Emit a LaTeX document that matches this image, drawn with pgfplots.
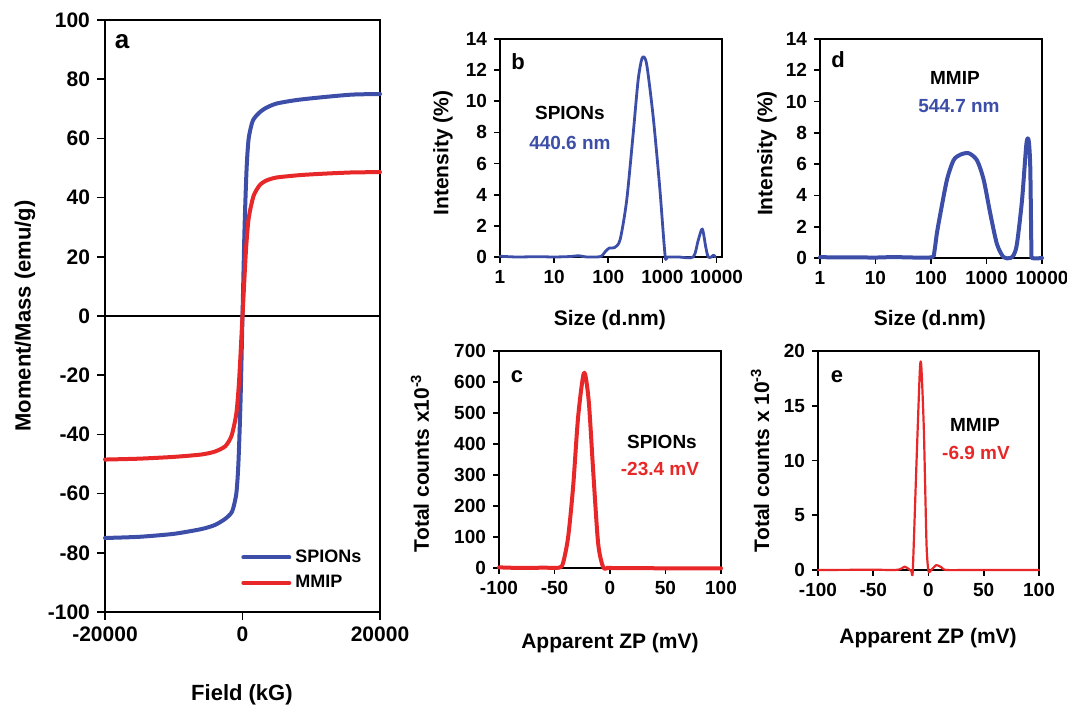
\documentclass[border=0pt]{standalone}
\usepackage{fontspec}
\setmainfont{Liberation Sans}
\usepackage{pgfplots}
\pgfplotsset{compat=1.18}
\definecolor{cblue}{RGB}{60,78,168}
\definecolor{cred}{RGB}{232,40,40}
\pgfplotsset{
  panel/.style={
    scale only axis, anchor=south west,
    axis line style={line width=1pt},
    tick align=outside, xtick pos=bottom, ytick pos=left,
    major tick style={black, line width=0.8pt}, major tick length=3pt,
    /pgf/number format/assume math mode=true,
    /pgf/number format/1000 sep={},
    scaled ticks=false,
    tick label style={font=\fontsize{9.5}{11}\selectfont\bfseries},
    label style={font=\fontsize{10.5}{12}\selectfont\bfseries},
    every axis plot/.append style={line join=round, line cap=round},
    clip=false,
  },
}
\tikzset{
  plabel/.style={font=\fontsize{11}{12}\selectfont\bfseries},
  ann/.style={font=\fontsize{9.5}{11}\selectfont\bfseries},
}
\begin{document}
\begin{tikzpicture}
\useasboundingbox (0,0) rectangle (533.5pt,352.5pt);

% ---------- panel a ----------
\begin{axis}[panel,
  at={(52.5pt,46.5pt)}, width=137.5pt, height=296pt,
  xmin=-20000, xmax=20000, ymin=-100, ymax=100,
  xtick={-20000,0,20000}, xticklabels={-20000,0,20000},
  ytick={-100,-80,...,100},
  major tick length=4pt,
  tick label style={font=\fontsize{10.5}{12}\selectfont\bfseries},
  label style={font=\fontsize{11}{13}\selectfont\bfseries},
  xlabel={Field (kG)}, ylabel={Moment/Mass (emu/g)},
  xlabel style={at={(axis description cs:0.498,-0.140)}, anchor=center},
  ylabel style={at={(axis description cs:-0.291,0.5)}, anchor=center},
  legend style={at={(axis description cs:0.97,0.022)}, anchor=south east,
    draw=none, fill=none, font=\fontsize{9}{10}\selectfont\bfseries,
    row sep=1pt},
  legend cell align=left,
  legend image code/.code={\draw[#1] (0pt,0pt) -- (23pt,0pt);},
]
\addplot[forget plot, black, line width=0.6pt] coordinates {(-20000,0) (20000,0)};
\addplot[cblue, line width=2pt, smooth, tension=0.4] coordinates {
(-20000,-75) (-15000,-74.6) (-10000,-73.6) (-6000,-72) (-4000,-70.6)
(-2500,-68.5) (-1500,-66) (-900,-60) (-600,-50) (-300,-30) (0,0)
(300,30) (600,50) (900,60) (1500,66) (2500,68.8) (3500,70.4)
(5000,71.8) (8000,73) (12000,74) (16000,74.8) (20000,75)};
\addlegendentry{SPIONs}
\addplot[cred, line width=2pt, smooth, tension=0.4] coordinates {
(-20000,-48.5) (-15000,-48.2) (-10000,-47.6) (-6000,-46.8) (-4000,-45.8)
(-2500,-44) (-1600,-40.5) (-900,-33) (-500,-22) (0,0)
(500,22) (900,33) (1600,40.5) (2500,44.2) (3500,45.8) (5000,46.8)
(8400,47.6) (12000,48.1) (16000,48.5) (20000,48.6)};
\addlegendentry{MMIP}
\node[font=\fontsize{13}{14}\selectfont\bfseries] at (axis description cs:0.062,0.964) {a};
\end{axis}

% ---------- panel b ----------
\begin{axis}[panel,
  at={(250pt,224pt)}, width=111pt, height=109pt,
  xmode=log, xmin=1, xmax=12600, ymin=0, ymax=14,
  xminorticks=false,
  xtick={1,10,100,1000,10000}, xticklabels={1,10,100,1000,10000},
  ytick={0,2,...,14},
  xlabel={Size (d.nm)}, ylabel={Intensity (\%)},
  xlabel style={at={(axis description cs:0.495,-0.289)}, anchor=center},
  ylabel style={at={(axis description cs:-0.257,0.477)}, anchor=center},
]
\addplot[cblue, line width=1.4pt, smooth, tension=0.45] coordinates {
(1,0.05) (2,0) (5,0.02) (10,0) (20,0.03) (28,0.08) (40,0) (60,0) (75,0.05)
(88,0.35) (105,0.58) (130,0.6) (165,1.1) (218,3.6) (288,7.9) (357,11.4)
(425,12.8) (510,12.4) (675,9.0) (890,4.5) (1120,0.1) (1250,0) (2000,0)
(3700,0) (4580,1.07) (5450,1.8) (6340,0.6) (7000,0) (8000,0) (8800,0.12) (9500,0)};
\node[plabel] at (axis description cs:0.081,0.894) {b};
\node[ann] at (axis description cs:0.315,0.66) {SPIONs};
\node[ann, text=cblue] at (axis description cs:0.315,0.523) {440.6 nm};
\end{axis}

% ---------- panel d ----------
\begin{axis}[panel,
  at={(410pt,223.5pt)}, width=111pt, height=109.5pt,
  xmode=log, xmin=1, xmax=10000, ymin=0, ymax=14,
  xminorticks=false,
  xtick={1,10,100,1000,10000}, xticklabels={1,10,100,1000,10000},
  ytick={0,2,...,14},
  xlabel={Size (d.nm)}, ylabel={Intensity (\%)},
  xlabel style={at={(axis description cs:0.495,-0.285)}, anchor=center},
  ylabel style={at={(axis description cs:-0.239,0.477)}, anchor=center},
]
\addplot[cblue, line width=2pt, smooth, tension=0.45] coordinates {
(1,0.05) (10,0.03) (20,0.06) (50,0.03) (105,0.05) (115,0.4) (128,1.6) (147,2.8)
(194,5.0) (255,6.25) (336,6.6) (476,6.7) (673,6.25) (890,5.0) (1170,2.84)
(1540,0.9) (2030,0.05) (2690,0) (3100,0.2) (3540,0.9) (4370,3.7) (5240,7.3)
(5760,7.5) (6150,5.8) (6450,0.5) (6700,0) (10000,0)};
\node[plabel] at (axis description cs:0.081,0.904) {d};
\node[ann] at (axis description cs:0.608,0.822) {MMIP};
\node[ann, text=cblue] at (axis description cs:0.626,0.694) {544.7 nm};
\end{axis}

% ---------- panel c ----------
\begin{axis}[panel,
  at={(249.5pt,68.5pt)}, width=111pt, height=108.5pt,
  xmin=-100, xmax=100, ymin=0, ymax=700,
  xtick={-100,-50,...,100}, ytick={0,100,...,700},
  xlabel={Apparent ZP (mV)}, ylabel={Total counts x10\textsuperscript{-3}},
  xlabel style={at={(axis description cs:0.5,-0.346)}, anchor=center},
  ylabel style={at={(axis description cs:-0.356,0.484)}, anchor=center},
]
\addplot[cred, line width=2pt, smooth, tension=0.45] coordinates {
(-100,2) (-80,0) (-60,1) (-46,1) (-42.3,16) (-37.7,100) (-33.2,263)
(-28.7,488) (-23.4,630) (-19.2,540) (-15.2,316) (-10.7,80)
(-6.2,3) (-2,0) (0,0) (50,-1) (100,-1)};
\node[plabel] at (axis description cs:0.081,0.88) {c};
\node[ann] at (axis description cs:0.734,0.581) {SPIONs};
\node[ann, text=cred] at (axis description cs:0.725,0.456) {-23.4 mV};
\end{axis}

% ---------- panel e ----------
\begin{axis}[panel,
  at={(409pt,67.5pt)}, width=110.5pt, height=109.5pt,
  xmin=-100, xmax=100, ymin=0, ymax=20,
  xtick={-100,-50,...,100}, ytick={0,5,...,20},
  xlabel={Apparent ZP (mV)}, ylabel={Total counts x 10\textsuperscript{-3}},
  xlabel style={at={(axis description cs:0.498,-0.31)}, anchor=center},
  ylabel style={at={(axis description cs:-0.262,0.502)}, anchor=center},
]
\addplot[cred, line width=1.1pt, smooth, tension=0.4] coordinates {
(-100,0) (-50,0.02) (-30,0) (-25,0.1) (-21.6,0.3) (-18,0.1) (-15.5,-0.1)
(-14.2,0) (-10.9,9.7) (-7.8,18.3) (-6.5,18.6) (-4.2,12.8) (-1.8,2.4)
(0,-0.1) (2.5,0) (7.1,0.45) (11.6,0.25) (16,0) (40,0) (100,0)};
\node[plabel] at (axis description cs:0.086,0.881) {e};
\node[ann] at (axis description cs:0.71,0.662) {MMIP};
\node[ann, text=cred] at (axis description cs:0.715,0.534) {-6.9 mV};
\end{axis}
\end{tikzpicture}
\end{document}
